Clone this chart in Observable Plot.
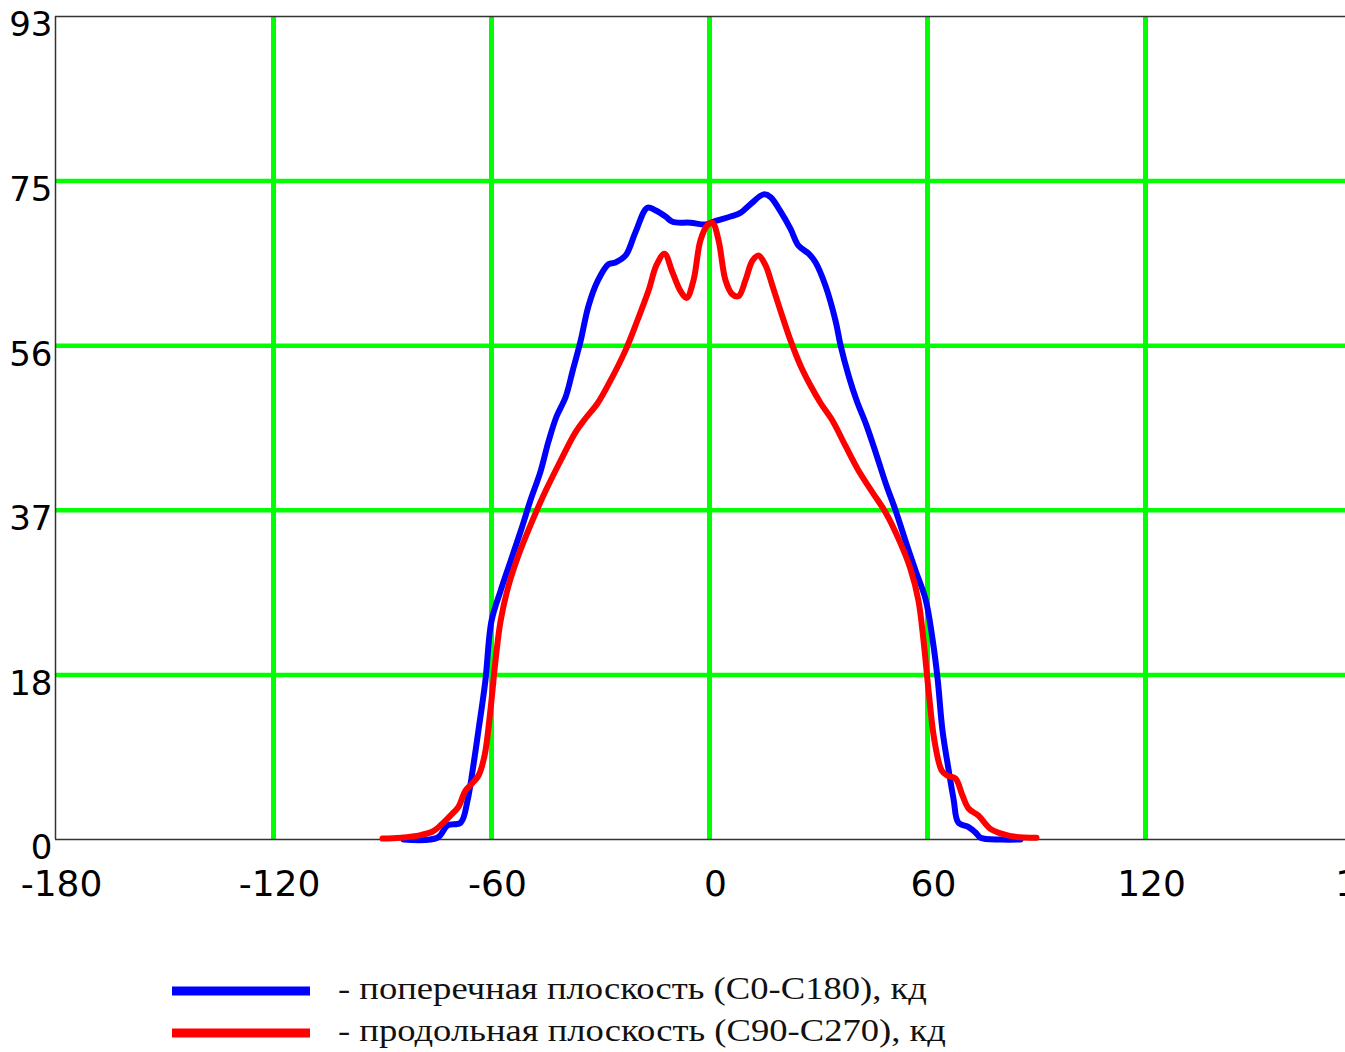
<!DOCTYPE html>
<html>
<head>
<meta charset="utf-8">
<script src="https://cdn.jsdelivr.net/npm/d3@7"></script>
<script src="https://cdn.jsdelivr.net/npm/@observablehq/plot@0.6"></script>
<style>
  html, body { margin: 0; padding: 0; background: white; overflow: hidden; }
  #wrap { width: 1345px; }
</style>
</head>
<body>
<div id="wrap"></div>
<script>
// ---- data ----
const xTicks = [-180, -120, -60, 0, 60, 120, 180];
const xLabels = ["-180", "-120", "-60", "0", "60", "120", "180"];
const xGrid = [-120, -60, 0, 60, 120];
const yTicks = [0, 18.6, 37.2, 55.8, 74.4, 93];
const yLabels = ["0", "18", "37", "56", "75", "93"];
const yGrid = [18.6, 37.2, 55.8, 74.4];

const blueAngles = [-84.2, -74.9, -72.1, -68.5, -66.6, -65.2, -63.6, -61.7, -60, -57.5, -54.8, -52.0, -49.3, -46.5, -44.3, -42.1, -39.6, -37.7, -35.5, -33.3, -30.8, -27.8, -25.9, -23.1, -20.4, -17.1, -14.9, -12.1, -10.2, -5.2, -1.1, 1.7, 5.8, 8.5, 11.3, 14.9, 16.8, 19.5, 22.3, 24.5, 27.3, 29.2, 31.9, 34.7, 36.1, 38.3, 40.5, 43.2, 46.0, 48.7, 51.2, 53.9, 56.7, 59.5, 61.4, 62.8, 64.1, 65.8, 67.2, 68.5, 71.3, 73.2, 74.6, 80.1, 85.6];
const blueValues = [0, 0.2, 1.6, 1.9, 4.4, 7.8, 12.3, 17.9, 24.7, 28.1, 31.4, 34.8, 38.3, 41.6, 45.0, 47.8, 50.0, 52.9, 56.3, 60.3, 63.1, 65.0, 65.2, 66.0, 68.6, 71.4, 71.1, 70.4, 69.8, 69.7, 69.5, 69.9, 70.4, 70.8, 71.8, 72.9, 72.6, 71.0, 69.0, 67.1, 66.2, 65.2, 62.6, 58.6, 55.8, 52.4, 49.6, 46.8, 43.4, 40.0, 37.2, 33.8, 30.4, 27.1, 22.6, 18.1, 12.4, 7.9, 4.5, 1.9, 1.4, 0.8, 0.2, 0, 0];

const redAngles = [-90, -85, -79.5, -76.2, -74, -71.3, -69.1, -67.2, -65.2, -63.6, -61.9, -60.3, -58.9, -57.5, -55.3, -52.6, -49.3, -45.1, -41.0, -36.9, -34.1, -30.8, -27.2, -23.1, -19.8, -16.8, -14.6, -12.4, -10.2, -8.0, -6.3, -4.4, -2.5, -0.6, 0.8, 2.5, 4.4, 6.3, 8.0, 9.9, 11.8, 13.5, 15.4, 17.3, 19.5, 22.3, 25.0, 27.8, 30.6, 33.9, 37.4, 41.0, 44.9, 48.4, 52.0, 55.3, 57.5, 58.9, 60.3, 61.9, 63.9, 65.5, 67.7, 69.6, 71.3, 74, 77.3, 80.1, 84.2, 90];
const redValues = [0.1, 0.2, 0.5, 0.9, 1.6, 2.7, 3.7, 5.5, 6.4, 7.2, 9.5, 14.6, 20.2, 24.7, 28.7, 32.1, 35.5, 39.4, 42.8, 46.0, 47.6, 49.3, 51.9, 55.3, 58.7, 62.0, 64.9, 66.2, 64.1, 62.0, 61.2, 63.2, 67.7, 69.4, 69.7, 67.7, 63.2, 61.6, 61.4, 63.2, 65.4, 66.0, 64.9, 62.6, 59.8, 56.4, 53.6, 51.3, 49.3, 47.3, 44.5, 41.7, 39.2, 37.0, 34.0, 30.6, 27.0, 22.5, 16.8, 11.2, 7.8, 7.2, 6.9, 5.0, 3.5, 2.7, 1.2, 0.7, 0.3, 0.2];

const seriesNames = ["- поперечная плоскость (C0-C180), кд", "- продольная плоскость (C90-C270), кд"];
const seriesColors = ["#0000ff", "#ff0000"];

const blue = blueAngles.map((a, i) => ({a, v: blueValues[i]}));
const red = redAngles.map((a, i) => ({a, v: redValues[i]}));

const W = 1345, H = 920;
const chart = Plot.plot({
  width: W,
  height: H,
  marginLeft: 55,
  marginTop: 16,
  marginBottom: H - 839,
  marginRight: 0,
  style: {fontFamily: "DejaVu Sans", background: "white", color: "#000"},
  x: {domain: [-180, 180], range: [55, 1363]},
  y: {domain: [0, 93], range: [839, 16]},
  marks: [
    Plot.gridX(xGrid, {stroke: "#00ff00", strokeOpacity: 1, strokeWidth: 5}),
    Plot.gridY(yGrid, {stroke: "#00ff00", strokeOpacity: 1, strokeWidth: 4.5}),
    Plot.ruleX([-180], {stroke: "#333", strokeWidth: 1.5}),
    Plot.ruleY([0, 93], {stroke: "#333", strokeWidth: 1.5}),
    Plot.line(blue, {x: "a", y: "v", stroke: seriesColors[0], strokeWidth: 6, curve: "catmull-rom"}),
    Plot.line(red, {x: "a", y: "v", stroke: seriesColors[1], strokeWidth: 6, curve: "catmull-rom"}),
    Plot.axisX(xTicks, {tickSize: 0, tickPadding: 31, fontSize: 36, dx: 6, fill: "#000", label: null, tickFormat: (d, i) => xLabels[i]}),
    Plot.axisY(yTicks, {tickSize: 0, tickPadding: 3, fontSize: 34, dy: 9, fill: "#000", tickFormat: (d, i) => yLabels[i], label: null})
  ]
});
document.getElementById("wrap").appendChild(chart);

// legend below the chart
const lg = d3.select("#wrap").append("svg")
  .attr("width", W).attr("height", 1052 - H)
  .style("display", "block");
const rows = lg.selectAll("g").data(seriesNames).join("g")
  .attr("transform", (d, i) => `translate(0, ${71 + i * 42})`);
rows.append("line")
  .attr("x1", 172).attr("x2", 310).attr("y1", 0).attr("y2", 0)
  .attr("stroke", (d, i) => seriesColors[i]).attr("stroke-width", 9);
rows.append("text")
  .attr("x", 338).attr("y", 8)
  .attr("font-family", "Liberation Serif")
  .attr("font-size", 31)
  .attr("fill", "#111")
  .attr("textLength", (d, i) => i === 0 ? 589 : 608)
  .attr("lengthAdjust", "spacingAndGlyphs")
  .text(d => d);
</script>
</body>
</html>
